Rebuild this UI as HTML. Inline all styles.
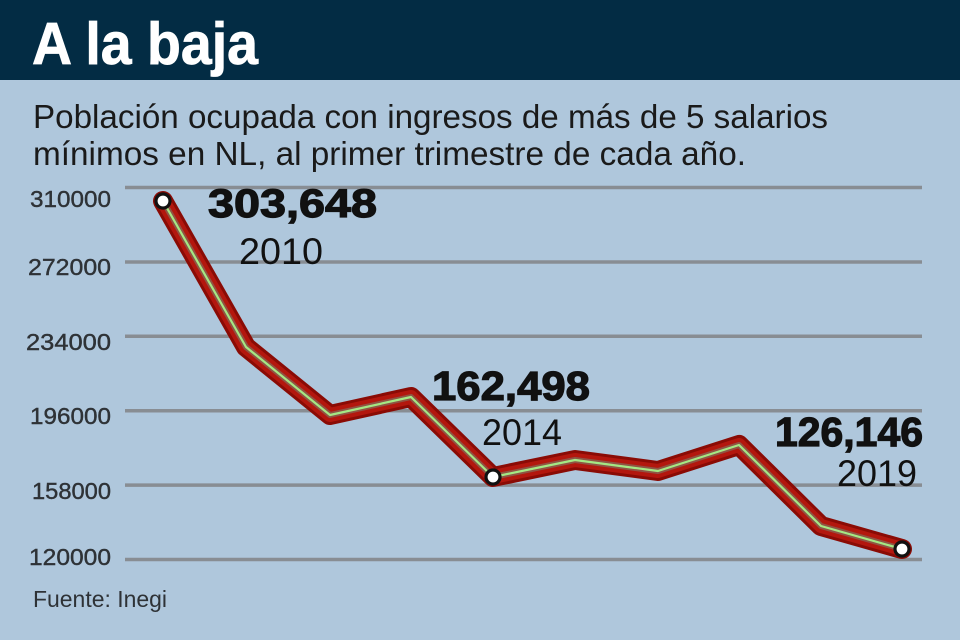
<!DOCTYPE html>
<html>
<head>
<meta charset="utf-8">
<style>
  html,body{margin:0;padding:0;}
  body{width:960px;height:640px;overflow:hidden;background:#afc7dc;}
  svg{display:block;}
  text{font-family:"Liberation Sans", sans-serif;}
</style>
</head>
<body>
<svg width="960" height="640" viewBox="0 0 960 640" xmlns="http://www.w3.org/2000/svg">
  <rect x="0" y="0" width="960" height="640" fill="#afc7dc"/>
  <rect x="0" y="0" width="960" height="80" fill="#032c44"/>
  <text x="32" y="64" font-size="59" font-weight="bold" fill="#ffffff" stroke="#ffffff" stroke-width="0.8" textLength="226" lengthAdjust="spacingAndGlyphs">A la baja</text>

  <text x="33" y="128" font-size="33" fill="#1a1a1a" textLength="795" lengthAdjust="spacingAndGlyphs">Población ocupada con ingresos de más de 5 salarios</text>
  <text x="33" y="165" font-size="33" fill="#1a1a1a" textLength="713" lengthAdjust="spacingAndGlyphs">mínimos en NL, al primer trimestre de cada año.</text>

  <g stroke="#888d93" stroke-width="3.5">
    <line x1="125" y1="187.5" x2="922" y2="187.5"/>
    <line x1="125" y1="262" x2="922" y2="262"/>
    <line x1="125" y1="336.3" x2="922" y2="336.3"/>
    <line x1="125" y1="410.7" x2="922" y2="410.7"/>
    <line x1="125" y1="485.1" x2="922" y2="485.1"/>
    <line x1="125" y1="559.5" x2="922" y2="559.5"/>
  </g>

  <g font-size="23" fill="#2e3236" stroke="#2e3236" stroke-width="0.4" text-anchor="end">
    <text x="111" y="207" textLength="81" lengthAdjust="spacingAndGlyphs">310000</text>
    <text x="111" y="275" textLength="83" lengthAdjust="spacingAndGlyphs">272000</text>
    <text x="111" y="350" textLength="85" lengthAdjust="spacingAndGlyphs">234000</text>
    <text x="111" y="424" textLength="81" lengthAdjust="spacingAndGlyphs">196000</text>
    <text x="111" y="499" textLength="79" lengthAdjust="spacingAndGlyphs">158000</text>
    <text x="111" y="565" textLength="82" lengthAdjust="spacingAndGlyphs">120000</text>
  </g>

  <text x="33" y="607" font-size="23" fill="#2e3236" textLength="134" lengthAdjust="spacingAndGlyphs">Fuente: Inegi</text>

  <!-- Series line -->
  <g fill="none" stroke-linejoin="round" stroke-linecap="round">
    <polyline points="163,201 246,347 330,415 411,397 493,477 575,460 658,471 739,445 821,526 902,549" stroke="#8a0b05" stroke-width="20"/>
    <polyline points="163,201 246,347 330,415 411,397 493,477 575,460 658,471 739,445 821,526 902,549" stroke="#b3170e" stroke-width="14"/>
    <polyline points="163,201 246,347 330,415 411,397 493,477 575,460 658,471 739,445 821,526 902,549" stroke="#8f5444" stroke-width="6"/>
    <polyline points="163,201 246,347 330,415 411,397 493,477 575,460 658,471 739,445 821,526 902,549" stroke="#a4e884" stroke-width="2.2"/>
  </g>

  <g fill="#ffffff" stroke="#111111" stroke-width="3.2">
    <circle cx="163" cy="201" r="7"/>
    <circle cx="493" cy="477" r="7"/>
    <circle cx="902" cy="549" r="7"/>
  </g>

  <!-- Annotations -->
  <g fill="#111111">
    <text x="208" y="217" font-size="40" font-weight="bold" stroke="#111111" stroke-width="1.2" textLength="169" lengthAdjust="spacingAndGlyphs">303,648</text>
    <text x="239" y="264" font-size="37" textLength="84" lengthAdjust="spacingAndGlyphs">2010</text>
    <text x="432" y="400" font-size="41" font-weight="bold" stroke="#111111" stroke-width="1.2" textLength="158" lengthAdjust="spacingAndGlyphs">162,498</text>
    <text x="482" y="445" font-size="37" textLength="80" lengthAdjust="spacingAndGlyphs">2014</text>
    <text x="775" y="446" font-size="41" font-weight="bold" stroke="#111111" stroke-width="1.2" textLength="148" lengthAdjust="spacingAndGlyphs">126,146</text>
    <text x="837" y="486" font-size="37" textLength="80" lengthAdjust="spacingAndGlyphs">2019</text>
  </g>
</svg>
</body>
</html>
